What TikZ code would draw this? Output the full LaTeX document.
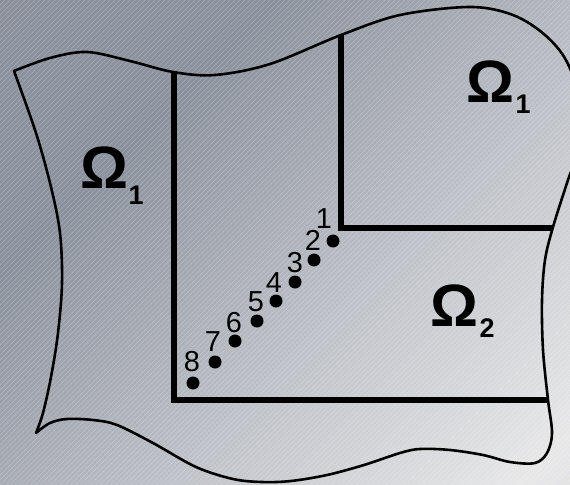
\documentclass[tikz,border=0pt]{standalone}
\usepackage{fontspec}
\setmainfont{Liberation Sans}
\definecolor{bgA}{HTML}{8B909C}
\definecolor{bgB}{HTML}{8B919D}
\definecolor{bgC}{HTML}{BEC1C7}
\definecolor{bgD}{HTML}{E7E7E8}
\definecolor{bgE}{HTML}{D4D5D8}
\pgfdeclarehorizontalshading{bgshade}{100bp}{color(0bp)=(bgA); color(33bp)=(bgB); color(58bp)=(bgC); color(82bp)=(bgD); color(100bp)=(bgE)}
\begin{document}
\begin{tikzpicture}[x=1bp,y=-1bp,
  thickline/.style={line width=6.5bp, line join=miter},
  outline/.style={line width=2.6bp, line join=round, line cap=round},
  dot/.style={circle, fill=black, inner sep=0pt, minimum size=13bp},
  num/.style={font=\fontsize{29}{29}\selectfont, inner sep=0pt},
  omega/.style={font=\fontsize{60}{60}\selectfont\bfseries, inner sep=0pt},
  subnum/.style={font=\fontsize{27}{27}\selectfont\bfseries, inner sep=0pt},
  stripe/.style={white, opacity=0.22, line width=0.6bp}]
% background
\useasboundingbox (0,0) rectangle (570,485);
\begin{scope}
\clip (0,0) rectangle (570,485);
\shade[shading=bgshade, shading angle=-45] (0,0) rectangle (570,485);
\foreach \i in {-500,-495,...,575} \draw[stripe] (\i,485) -- ({\i+485},0);
\end{scope}
% outer wavy boundary
\draw[outline] plot[smooth, tension=0.55] coordinates {
 (14,71) (50,58) (87,52) (130,61) (173,72) (215,75) (270,64) (341,35)
 (400,15) (470,7) (513,15) (545,35) (567,62) (581,105) (580,145) (568,180)
 (553,227) (545,260) (542,300) (543,350) (548,400) (552,433) (547,453)
 (535,463) (510,462) (483,455) (450,450) (420,449) (400,453) (364,465)
 (327,475) (291,481) (262,482) (233,479) (196,467) (153,443) (117,425)
 (93,420) (67,419) (50,423) (36,433)}
 plot[smooth, tension=0.55] coordinates {
 (36,433) (43,413) (51,377) (58,333) (62,283) (60,233) (51,187) (36,133) (14,71)};
% L-shaped thick lines
\coordinate (a1) at (174,72);
\coordinate (a2) at (174,400);
\coordinate (a3) at (549,400);
\coordinate (b1) at (341,35);
\coordinate (b2) at (341,228);
\coordinate (b3) at (553,228);
\draw[thickline] (a1) -- (a2) -- (a3);
\draw[thickline] (b1) -- (b2) -- (b3);
% points
\node[dot] (p1) at (333,241) {};
\node[dot] (p2) at (314,260) {};
\node[dot] (p3) at (295,282) {};
\node[dot] (p4) at (276,301) {};
\node[dot] (p5) at (257,321) {};
\node[dot] (p6) at (235,341) {};
\node[dot] (p7) at (215,362) {};
\node[dot] (p8) at (193,383) {};
\node[num] (n1) at (324,219) {1};
\node[num] (n2) at (313,240) {2};
\node[num] (n3) at (295,263) {3};
\node[num] (n4) at (274,283) {4};
\node[num] (n5) at (256,302) {5};
\node[num] (n6) at (234,323) {6};
\node[num] (n7) at (213,342) {7};
\node[num] (n8) at (192,362) {8};
% region labels
\node[omega] (o1) at (104,168) {Ω};
\node[subnum] (s1) at (136,195) {1};
\node[omega] (o2) at (490,82) {Ω};
\node[subnum] (s2) at (523,104) {1};
\node[omega] (o3) at (454,306) {Ω};
\node[subnum] (s3) at (487,328) {2};
\end{tikzpicture}
\end{document}
